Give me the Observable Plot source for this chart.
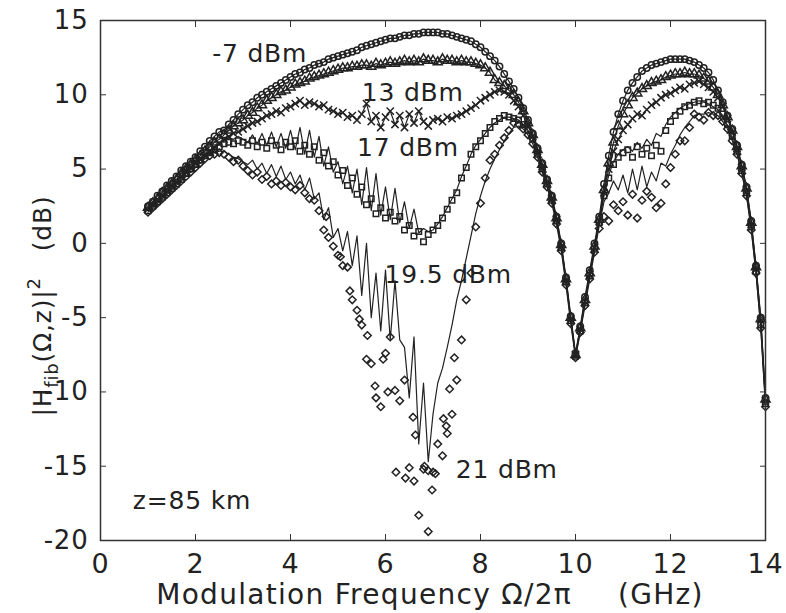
<!DOCTYPE html>
<html><head><meta charset="utf-8">
<script src="https://cdn.jsdelivr.net/npm/d3@7"></script>
<script src="https://cdn.jsdelivr.net/npm/@observablehq/plot@0.6"></script>
<style>
body{margin:0;background:#fff}
svg{font-family:"DejaVu Sans",Verdana,sans-serif}
svg text{letter-spacing:0.8px}
</style>
</head><body><div id="chart"></div>
<script>
// Modulation frequency (GHz)
const freq = [
 1.0,1.1,1.2,1.3,1.4,1.5,1.6,1.7,1.8,1.9,2.0,
 2.1,2.2,2.3,2.4,2.5,2.6,2.7,2.8,2.9,3.0,
 3.1,3.2,3.3,3.4,3.5,3.6,3.7,3.8,3.9,4.0,
 4.1,4.2,4.3,4.4,4.5,4.6,4.7,4.8,4.9,5.0,
 5.1,5.2,5.3,5.4,5.5,5.6,5.7,5.8,5.9,6.0,
 6.1,6.2,6.3,6.4,6.5,6.6,6.7,6.8,6.9,7.0,
 7.1,7.2,7.3,7.4,7.5,7.6,7.7,7.8,7.9,8.0,
 8.1,8.2,8.3,8.4,8.5,8.6,8.7,8.8,8.9,9.0,
 9.1,9.2,9.3,9.4,9.5,9.6,9.7,9.8,9.9,10.0,
 10.1,10.2,10.3,10.4,10.5,10.6,10.7,10.8,10.9,11.0,
 11.1,11.2,11.3,11.4,11.5,11.6,11.7,11.8,11.9,12.0,
 12.1,12.2,12.3,12.4,12.5,12.6,12.7,12.8,12.9,13.0,
 13.1,13.2,13.3,13.4,13.5,13.6,13.7,13.8,13.9,14.0];

// measured |H|^2 (dB) for each launched power
const pm7 = [
 2.5,2.8,3.2,3.5,3.9,4.2,4.5,4.9,5.2,5.5,5.8,
 6.2,6.5,6.9,7.2,7.5,7.6,8.0,8.3,8.7,9.0,
 9.3,9.5,9.8,10.0,10.2,10.4,10.6,10.8,11.0,11.2,
 11.4,11.5,11.7,11.8,12.0,12.1,12.2,12.4,12.5,12.6,
 12.7,12.8,12.9,13.0,13.2,13.3,13.4,13.5,13.6,13.7,
 13.8,13.8,13.9,14.0,14.0,14.1,14.1,14.2,14.2,14.2,
 14.2,14.1,14.1,14.0,13.9,13.8,13.7,13.6,13.4,13.2,
 12.9,12.6,12.3,11.9,11.4,10.9,10.4,9.8,9.1,8.3,
 7.4,6.4,5.4,4.3,3.2,1.8,0.0,-2.3,-4.9,-7.4,
 -5.6,-3.6,-1.8,0.0,1.8,4.0,5.9,7.5,8.7,9.6,
 10.3,10.8,11.2,11.6,11.8,12.0,12.1,12.2,12.3,12.4,
 12.4,12.4,12.4,12.3,12.2,12.0,11.8,11.5,11.0,10.3,
 9.5,8.6,7.7,6.6,5.3,3.8,1.5,-1.5,-5.0,-10.4];
const p13 = [
 2.4,2.7,3.0,3.4,3.7,4.0,4.3,4.7,5.0,5.3,5.6,
 5.9,6.2,6.5,6.8,7.0,7.3,7.6,7.9,8.1,8.3,
 8.6,8.8,9.1,9.3,9.6,9.8,10.0,10.2,10.3,10.5,
 10.7,10.8,10.9,11.1,11.2,11.3,11.4,11.5,11.6,11.7,
 11.8,11.8,11.9,11.9,12.0,12.0,11.9,12.1,12.0,12.1,
 12.2,12.1,12.2,12.3,12.2,12.3,12.2,12.4,12.3,12.3,
 12.2,12.4,12.3,12.3,12.2,12.3,12.2,12.2,12.1,12.0,
 11.8,11.5,11.0,10.8,10.6,10.3,10.0,9.5,8.9,8.1,
 7.3,6.3,5.3,4.2,3.1,1.7,-0.1,-2.4,-5.0,-7.5,
 -5.7,-3.8,-2.0,-0.2,1.6,3.6,5.4,6.8,7.9,8.7,
 9.3,9.8,10.1,10.4,10.6,10.8,10.9,11.0,11.2,11.3,
 11.4,11.4,11.5,11.4,11.4,11.3,11.1,10.9,10.5,10.0,
 9.3,8.5,7.6,6.5,5.2,3.7,1.4,-1.6,-5.1,-10.5];
const p17 = [
 2.3,2.6,2.9,3.2,3.5,3.8,4.1,4.5,4.8,5.1,5.4,
 5.7,5.9,6.2,6.4,6.7,7.0,7.2,7.4,7.5,7.7,
 7.9,8.1,8.2,8.4,8.6,8.7,8.9,8.8,9.1,9.2,
 9.4,9.6,9.3,9.5,9.4,9.2,9.3,9.0,8.9,8.7,
 8.8,8.5,8.6,8.3,8.7,9.4,8.2,8.6,7.8,8.5,
 8.9,8.0,8.6,7.8,8.7,8.1,8.9,8.2,7.9,8.3,
 8.4,8.2,8.5,8.4,8.6,8.7,8.9,9.1,9.3,9.6,
 9.8,10.0,10.2,10.3,10.2,10.0,9.6,9.2,8.6,7.9,
 7.2,6.2,5.2,4.1,3.0,1.6,-0.2,-2.5,-5.1,-7.5,
 -5.8,-3.9,-2.1,-0.3,1.5,3.4,5.0,6.2,7.0,7.6,
 8.0,8.4,8.7,8.6,9.0,9.3,9.5,9.8,10.0,10.1,
 10.3,10.5,10.4,10.7,10.8,10.9,10.7,10.5,10.2,9.8,
 9.2,8.4,7.5,6.4,5.1,3.6,1.3,-1.7,-5.2,-10.6];
const p195 = [
 2.2,2.5,2.8,3.1,3.4,3.7,4.0,4.3,4.7,5.0,5.3,
 5.6,5.9,6.1,6.3,6.5,6.7,6.8,6.7,6.9,6.8,
 6.6,6.9,6.5,6.8,6.4,6.9,6.6,6.3,6.8,6.5,
 6.9,6.2,6.6,6.0,6.5,5.6,6.1,5.2,5.5,4.6,
 4.9,3.9,4.4,3.3,3.8,2.6,3.0,2.0,2.4,1.7,
 2.1,1.5,1.8,0.9,1.2,0.5,0.8,0.1,0.6,0.9,
 1.2,1.7,2.3,2.9,3.4,4.4,5.1,6.0,6.5,6.9,
 7.4,7.8,8.2,8.4,8.6,8.5,8.4,8.3,8.0,7.6,
 7.0,6.0,5.0,4.0,2.9,1.5,-0.3,-2.6,-5.2,-7.6,
 -5.9,-4.0,-2.2,-0.4,1.4,3.2,4.4,5.3,5.8,6.1,
 6.3,5.8,6.5,6.0,6.4,5.9,6.6,6.2,7.6,8.2,
 8.6,8.9,9.2,9.3,9.5,9.6,9.4,9.5,9.3,9.1,
 8.7,8.0,7.2,6.2,4.9,3.4,1.1,-1.9,-5.5,-10.8];
const p21 = [
 2.1,2.4,2.7,3.0,3.3,3.6,3.9,4.2,4.5,4.8,5.1,
 5.4,5.7,5.9,6.0,6.1,6.0,5.8,5.5,5.6,5.2,
 4.9,4.6,4.8,4.3,4.5,4.0,4.2,3.9,4.1,3.8,
 3.6,3.9,3.4,3.0,2.9,2.2,0.9,0.4,-0.2,-0.8,
 -1.5,-1.6,-3.8,-4.5,-5.5,-7.8,-8.1,-10.4,-11.0,-7.4,
 -6.3,-9.9,-10.6,-9.2,-15.1,-16.0,-18.3,-15.2,-19.4,-15.4,
 -13.5,-14.3,-12.8,-11.5,-9.2,-6.5,-3.8,-2.0,1.1,2.7,
 4.4,5.6,6.0,6.6,7.1,7.6,8.1,8.0,7.7,7.3,
 6.7,5.8,4.8,3.8,2.7,1.3,-0.5,-2.8,-5.4,-7.7,
 -6.0,-4.2,-2.4,-0.6,1.0,1.8,1.5,2.6,2.2,2.8,
 1.9,3.3,1.7,2.9,3.5,3.1,2.4,2.7,4.0,5.1,
 6.0,6.9,6.9,7.8,8.7,8.5,8.3,8.8,8.6,8.6,
 8.2,7.7,6.9,6.0,4.7,3.2,0.9,-2.0,-5.7,-11.0];
// additional 21 dBm measurements in the dip
const f21extra = [4.75,5.05,5.25,5.45,5.62,5.78,5.95,6.05,6.22,6.42,6.58,6.63,6.82,6.9,6.98,7.05,7.22,7.28,7.35,7.45];
const p21extra = [1.8,-0.9,-3.2,-5.1,-6.2,-9.6,-7.8,-10.0,-15.4,-15.8,-11.7,-12.9,-15.0,-15.3,-16.6,-15.5,-11.8,-12.3,-9.8,-7.7];

// simulated curves for the two highest powers
const s195 = [
 2.2,2.5,2.8,3.1,3.4,3.7,4.0,4.3,4.7,5.0,5.3,
 5.6,5.9,6.2,6.5,6.7,7.0,7.1,7.0,7.2,7.0,
 6.8,7.3,6.7,7.4,6.6,7.5,6.5,7.4,6.4,7.6,
 6.3,7.8,6.0,7.6,5.8,7.2,5.2,6.5,4.8,5.5,
 4.0,5.2,3.4,5.0,2.6,5.1,2.2,4.7,1.9,3.8,
 1.6,3.7,1.4,2.8,1.0,2.3,0.7,1.0,0.8,0.9,
 1.3,1.8,2.4,3.0,3.6,4.5,5.2,6.0,6.6,7.0,
 7.4,7.8,8.1,8.3,8.5,8.5,8.4,8.3,8.0,7.6,
 7.0,6.0,5.0,4.0,2.9,1.5,-0.3,-2.6,-5.2,-7.6,
 -5.9,-4.0,-2.2,-0.4,1.4,3.2,4.6,5.5,6.0,6.3,
 6.5,6.2,6.8,6.4,7.0,6.6,7.4,7.2,8.0,8.5,
 8.8,9.1,9.3,9.4,9.5,9.6,9.5,9.4,9.2,9.0,
 8.6,7.9,7.1,6.1,4.8,3.3,1.0,-2.0,-5.6,-10.8];
const s21 = [
 2.1,2.4,2.7,3.0,3.3,3.6,3.9,4.2,4.5,4.8,5.1,
 5.4,5.7,6.0,6.1,6.2,6.2,6.0,5.8,5.7,5.5,
 5.3,5.6,5.0,5.4,4.7,5.3,4.5,5.2,4.3,4.8,
 4.0,4.6,3.6,4.4,3.0,3.4,1.6,2.4,0.4,1.0,
 -0.5,0.8,-1.5,0.5,-3.5,0.0,-5.0,-2.0,-5.9,-1.8,
 -6.5,-2.5,-6.5,-7.0,-10.4,-6.3,-13.5,-9.4,-14.7,-11.5,
 -9.4,-8.4,-7.0,-5.5,-3.8,-2.5,-1.0,0.5,2.0,3.2,
 4.2,5.0,5.7,6.3,6.9,7.4,7.8,7.9,7.7,7.3,
 6.7,5.8,4.8,3.8,2.7,1.3,-0.5,-2.8,-5.4,-7.7,
 -6.0,-4.2,-2.4,-0.6,1.2,2.8,3.4,4.2,3.6,4.6,
 3.4,5.0,3.6,5.2,3.8,4.8,4.2,5.4,5.2,6.0,
 6.6,7.3,7.8,8.2,8.6,8.7,8.7,8.8,8.7,8.6,
 8.2,7.7,6.9,6.0,4.7,3.2,0.9,-2.0,-5.7,-11.0];

const seriesNames = ["-7 dBm","13 dBm","17 dBm","19.5 dBm","21 dBm"];
const seriesSymbols = ["circle","triangle","times","square","diamond2"];
const measured = [pm7, p13, p17, p195, p21];
const simulated = [pm7, p13, p17, s195, s21];

const xTicks = [0,2,4,6,8,10,12,14];
const yTicks = [15,10,5,0,-5,-10,-15,-20];

const annoText = ["-7 dBm","13 dBm","17 dBm","19.5 dBm","21 dBm","z=85 km"];
const annoF = [2.35, 5.5, 5.4, 5.98, 7.48, 0.68];
const annoDB = [12.2, 9.6, 5.9, -2.7, -15.8, -17.85];

// ---- build tables
const lineRows = [];
simulated.forEach((arr, k) => arr.forEach((v, i) => lineRows.push({f: freq[i], v, s: seriesNames[k]})));
const dotSets = measured.map((arr, k) => arr.map((v, i) => ({f: freq[i], v})));
const extraRows = f21extra.map((f, i) => ({f, v: p21extra[i]}));
const annos = annoText.map((t, i) => ({t, f: annoF[i], v: annoDB[i]}));

const INK = "#222";
const noLabel = () => "";
const symR = [3.2, 3.4, 3.4, 3.1, 3.4];

const marks = [
  Plot.line(lineRows, {x: "f", y: "v", z: "s", stroke: INK, strokeWidth: 1.2}),
  ...dotSets.map((rows, k) => Plot.dot(rows, {x: "f", y: "v", symbol: seriesSymbols[k], r: symR[k], stroke: INK, strokeWidth: 1.5, fill: "none"})),
  Plot.dot(extraRows, {x: "f", y: "v", symbol: "diamond2", r: 3.4, stroke: INK, strokeWidth: 1.5, fill: "none"}),
  Plot.text(annos, {x: "f", y: "v", text: "t", textAnchor: "start", lineAnchor: "bottom", fontSize: 25, fill: "#222"}),
  Plot.frame({stroke: "#333", strokeWidth: 1.5}),
  Plot.axisX(xTicks, {anchor: "bottom", tickSize: 0, tickPadding: 13, fontSize: 27, tickFormat: d => String(d), label: null, fill: "#222"}),
  Plot.axisX(xTicks, {anchor: "bottom", tickSize: -6, tickFormat: noLabel, label: null, stroke: "#333"}),
  Plot.axisX(xTicks, {anchor: "top", tickSize: -6, tickFormat: noLabel, label: null, stroke: "#333"}),
  Plot.axisY(yTicks, {anchor: "left", tickSize: 0, tickPadding: 12, fontSize: 26, tickFormat: d => String(d), label: null, fill: "#222"}),
  Plot.axisY(yTicks, {anchor: "left", tickSize: -6, tickFormat: noLabel, label: null, stroke: "#333"}),
  Plot.axisY(yTicks, {anchor: "right", tickSize: -6, tickFormat: noLabel, label: null, stroke: "#333"})
];

const chart = Plot.plot({
  width: 786, height: 613,
  marginLeft: 100, marginRight: 21, marginTop: 20, marginBottom: 73,
  x: {domain: [0, 14]},
  y: {domain: [-20, 15]},
  style: {background: "#fff", color: "#222", fontFamily: "'DejaVu Sans', sans-serif"},
  marks
});
document.getElementById("chart").appendChild(chart);

const svg = d3.select(chart);
// x-axis title
const xt = svg.append("text")
  .attr("x", 430).attr("y", 604)
  .attr("text-anchor", "middle")
  .style("font-size", "28px").style("fill", "#222").style("letter-spacing", "1.3px");
xt.append("tspan").text("Modulation Frequency Ω/2π");
xt.append("tspan").attr("dx", 46).text("(GHz)");
// y-axis title with subscript / superscript
const yt = svg.append("text")
  .attr("transform", "translate(51,306) rotate(-90)")
  .attr("text-anchor", "middle")
  .style("font-size", "25px").style("fill", "#222");
yt.append("tspan").text("|H");
yt.append("tspan").attr("dy", 7).style("font-size", "18px").text("fib");
yt.append("tspan").attr("dy", -7).text("(Ω,z)|");
yt.append("tspan").attr("dy", -11).style("font-size", "18px").text("2");
yt.append("tspan").attr("dy", 11).attr("dx", 26).text("(dB)");
</script>
</body></html>
